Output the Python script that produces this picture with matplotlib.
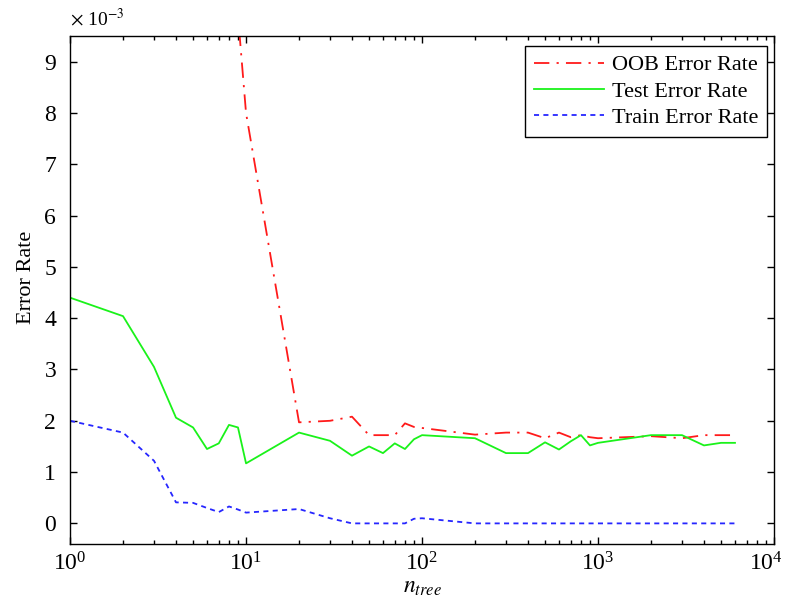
import matplotlib
matplotlib.use("Agg")
from matplotlib import pyplot as plt
from matplotlib.ticker import LogLocator, NullFormatter
import matplotlib.transforms as mtransforms

plt.rcParams['font.family'] = 'serif'
plt.rcParams['font.serif'] = ['Liberation Serif', 'DejaVu Serif']
plt.rcParams['mathtext.fontset'] = 'stix'

# number of trees
n_tree = [1, 2, 3, 4, 5, 6, 7, 8, 9, 10,
          20, 30, 40, 50, 60, 70, 80, 90, 100,
          200, 300, 400, 500, 600, 700, 800, 900, 1000,
          2000, 3000, 4000, 5000, 6000]

# error rates, in units of 1e-3 (first OOB values sit above the axis)
oob_err = [30.0, 24.0, 20.0, 17.0, 15.0, 13.5, 12.0, 11.0, 9.9, 8.0,
           1.97, 2.00, 2.08, 1.72, 1.72, 1.72, 1.95, 1.88, 1.86,
           1.73, 1.77, 1.77, 1.66, 1.77, 1.68, 1.72, 1.68, 1.66,
           1.70, 1.66, 1.72, 1.72, 1.72]
test_err = [4.40, 4.04, 3.05, 2.06, 1.87, 1.45, 1.56, 1.92, 1.87, 1.17,
            1.77, 1.61, 1.32, 1.50, 1.37, 1.56, 1.45, 1.64, 1.72,
            1.66, 1.37, 1.37, 1.58, 1.44, 1.60, 1.72, 1.52, 1.57,
            1.72, 1.72, 1.52, 1.57, 1.57]
train_err = [2.00, 1.77, 1.22, 0.41, 0.40, 0.30, 0.22, 0.33, 0.27, 0.21,
             0.28, 0.10, 0.0, 0.0, 0.0, 0.0, 0.0, 0.09, 0.10,
             0.0, 0.0, 0.0, 0.0, 0.0, 0.0, 0.0, 0.0, 0.0,
             0.0, 0.0, 0.0, 0.0, 0.0]

labels = ["OOB Error Rate", "Test Error Rate", "Train Error Rate"]

fig = plt.figure(figsize=(7.87, 6.01), dpi=100)
ax = fig.add_axes([0.089, 0.095, 0.8945, 0.845])

ax.plot(n_tree, oob_err, color=(1, 0.1, 0.1), lw=1.3, dashes=(8.5, 4, 1.2, 4), label=labels[0])
ax.plot(n_tree, test_err, color=(0.1, 0.95, 0.1), lw=1.3, label=labels[1])
ax.plot(n_tree, train_err, color=(0.15, 0.15, 1), lw=1.3, dashes=(2.8, 2.4), label=labels[2])

ax.set_xscale('log')
ax.set_xlim(1, 1e4)
ax.set_ylim(-0.4, 9.5)
ax.set_yticks(range(0, 10))
ax.set_xticks([1, 10, 100, 1000, 10000])
ax.xaxis.set_minor_locator(LogLocator(base=10, subs=range(2, 10), numticks=20))
ax.xaxis.set_minor_formatter(NullFormatter())

ax.tick_params(which='both', direction='in', top=True, right=True, labelsize=17, width=1.0)
ax.tick_params(which='major', length=5)
ax.tick_params(which='minor', length=3)
ax.tick_params(axis='x', which='major', pad=6)
ax.tick_params(axis='y', which='major', pad=10)
for s in ax.spines.values():
    s.set_linewidth(1.0)

# nudge the 10^4 label left so it stays inside the figure
last = ax.get_xticklabels()[-1]
last.set_transform(last.get_transform() + mtransforms.ScaledTranslation(-8 / 100, 0, fig.dpi_scale_trans))

ax.set_xlabel(r'$n_{tree}$', fontsize=17)
ax.xaxis.set_label_coords(0.5, -0.066)
ax.set_ylabel('Error Rate', fontsize=16)
ax.yaxis.set_label_coords(-0.048, 0.524)
fig.text(0.089, 0.958, r'$\times$ 10$^{-3}$', fontsize=14, va='baseline')

leg = ax.legend(loc='upper right', bbox_to_anchor=(767 / 787, 1 - 46 / 601),
                bbox_transform=fig.transFigure, borderaxespad=0,
                fontsize=16, handlelength=3.15, handletextpad=0.35,
                labelspacing=0.25, fancybox=False, framealpha=1,
                edgecolor='black', borderpad=0.4)
leg.get_frame().set_linewidth(1.0)

plt.savefig("out.png", dpi=100)
